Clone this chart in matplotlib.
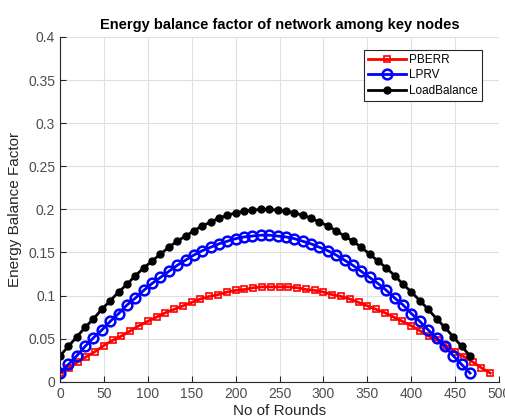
import numpy as np
import matplotlib.pyplot as plt

plt.rcParams['font.family'] = ['Liberation Sans', 'DejaVu Sans']

# rounds at which each protocol was sampled
rounds_pberr = np.arange(0, 500, 10)
rounds_other = np.linspace(0, 467, 50)

pberr = [0.010, 0.016, 0.023, 0.029, 0.035, 0.042, 0.048, 0.053, 0.059, 0.065,
         0.070, 0.075, 0.080, 0.084, 0.088, 0.092, 0.096, 0.099, 0.101, 0.104,
         0.106, 0.107, 0.109, 0.110, 0.110, 0.110, 0.110, 0.109, 0.107, 0.106,
         0.104, 0.101, 0.099, 0.096, 0.092, 0.088, 0.084, 0.080, 0.075, 0.070,
         0.065, 0.059, 0.053, 0.048, 0.042, 0.035, 0.029, 0.023, 0.016, 0.010]

lprv = [0.010, 0.020, 0.030, 0.041, 0.051, 0.060, 0.070, 0.079, 0.089, 0.097,
        0.106, 0.114, 0.121, 0.128, 0.135, 0.141, 0.147, 0.152, 0.156, 0.160,
        0.163, 0.166, 0.168, 0.169, 0.170, 0.170, 0.169, 0.168, 0.166, 0.163,
        0.160, 0.156, 0.152, 0.147, 0.141, 0.135, 0.128, 0.121, 0.114, 0.106,
        0.097, 0.089, 0.079, 0.070, 0.060, 0.051, 0.041, 0.030, 0.020, 0.010]

load_balance = [0.030, 0.041, 0.052, 0.063, 0.073, 0.084, 0.094, 0.104, 0.113, 0.123,
                0.132, 0.140, 0.148, 0.156, 0.163, 0.169, 0.175, 0.181, 0.185, 0.190,
                0.193, 0.196, 0.198, 0.199, 0.200, 0.200, 0.199, 0.198, 0.196, 0.193,
                0.190, 0.185, 0.181, 0.175, 0.169, 0.163, 0.156, 0.148, 0.140, 0.132,
                0.123, 0.113, 0.104, 0.094, 0.084, 0.073, 0.063, 0.052, 0.041, 0.030]

fig = plt.figure(figsize=(5.06, 4.19), dpi=100)
ax = fig.add_axes([0.1186, 0.089, 0.8676, 0.8228])

ax.plot(rounds_pberr, pberr, color='red', lw=2, marker='s', ms=5,
        mfc='none', mew=1.2, label='PBERR')
ax.plot(rounds_other, lprv, color='blue', lw=2, marker='o', ms=7,
        mfc='none', mew=1.8, label='LPRV')
ax.plot(rounds_other, load_balance, color='black', lw=2, marker='o', ms=5,
        label='LoadBalance')

ax.set_xlim(0, 500)
ax.set_ylim(0, 0.4)
ax.set_xticks(np.arange(0, 501, 50))
ax.set_yticks(np.arange(0, 0.41, 0.05))
ax.set_yticklabels(['0', '0.05', '0.1', '0.15', '0.2', '0.25', '0.3', '0.35', '0.4'])

ax.grid(True, color='#e0e0e0', lw=0.8)
ax.set_axisbelow(True)
for side in ['top', 'right']:
    ax.spines[side].set_visible(False)
for side in ['left', 'bottom']:
    ax.spines[side].set_color('#262626')
    ax.spines[side].set_linewidth(0.8)
ax.tick_params(direction='in', length=4, width=0.8, colors='#262626',
               labelcolor='#4d4d4d', labelsize=10)

ax.set_title('Energy balance factor of network among key nodes',
             fontsize=10.5, fontweight='bold', pad=6)
ax.set_xlabel('No of Rounds', fontsize=11, color='#262626', labelpad=2.5)
ax.set_ylabel('Energy Balance Factor', fontsize=11, color='#262626')

leg = ax.legend(loc='upper right', bbox_to_anchor=(0.975, 0.98), fontsize=8.5,
                fancybox=False, framealpha=1, edgecolor='#262626',
                handlelength=3.2, handletextpad=0.3, borderpad=0.35,
                labelspacing=0.3)
leg.get_frame().set_linewidth(0.8)

fig.savefig('out.png', dpi=100)
